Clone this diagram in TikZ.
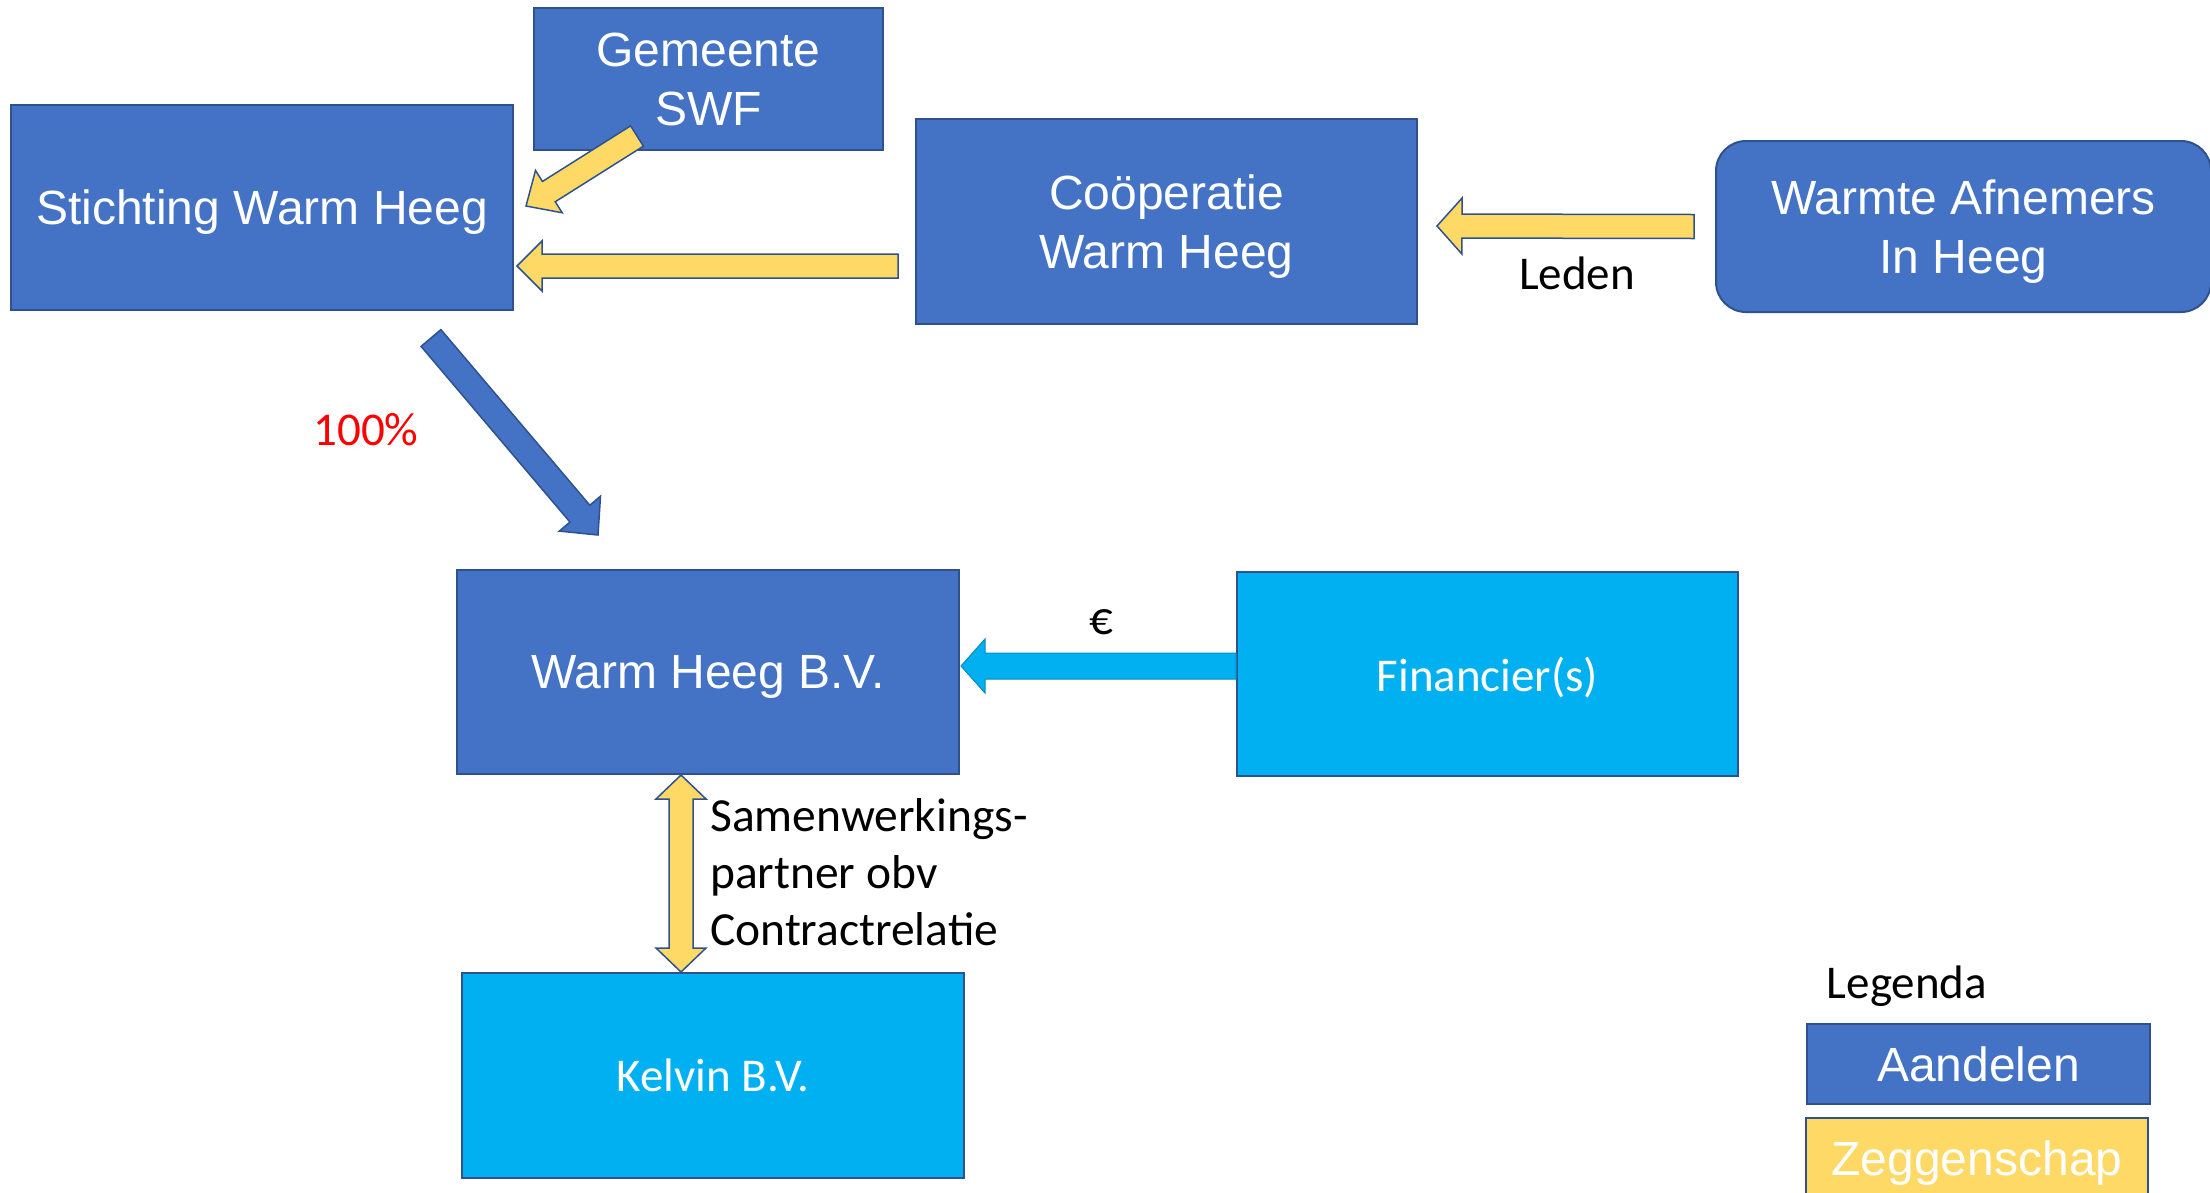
\documentclass[tikz,border=0pt]{standalone}
\usepackage{fontspec}
\setmainfont{Carlito}
\newfontfamily\arialfont{Liberation Sans}
\usetikzlibrary{calc}
\definecolor{darkblue}{HTML}{4472C4}
\definecolor{boxline}{HTML}{2F528F}
\definecolor{lightblue}{HTML}{00B0F0}
\definecolor{goldfill}{HTML}{FFD966}
% block arrow: style, from, to, half shaft width, half head width, head length
\newcommand\myarrow[6]{%
  \coordinate (ba-p) at ($(#3)!#6!(#2)$);
  \draw[#1] ($(#2)!#4!90:(#3)$) -- ($(ba-p)!#4!90:(#3)$) -- ($(ba-p)!#5!90:(#3)$)
    -- (#3) -- ($(ba-p)!#5!-90:(#3)$) -- ($(ba-p)!#4!-90:(#3)$) -- ($(#2)!#4!-90:(#3)$) -- cycle;}
\newcommand\mydblarrow[6]{%
  \coordinate (da-a) at ($(#2)!#6!(#3)$);
  \coordinate (da-b) at ($(#3)!#6!(#2)$);
  \draw[#1] (#2) -- ($(da-a)!#5!90:(#3)$) -- ($(da-a)!#4!90:(#3)$) -- ($(da-b)!#4!90:(#3)$)
    -- ($(da-b)!#5!90:(#3)$) -- (#3) -- ($(da-b)!#5!-90:(#3)$) -- ($(da-b)!#4!-90:(#3)$)
    -- ($(da-a)!#4!-90:(#3)$) -- ($(da-a)!#5!-90:(#3)$) -- cycle;}
\begin{document}
\begin{tikzpicture}[x=1pt,y=-1pt,
  box/.style={draw=boxline, line width=2pt, inner sep=0pt, anchor=north west, align=center, text=white, text depth=0pt},
  arialtext/.style={font=\arialfont\fontsize{48}{59}\selectfont},
  calitext/.style={font=\fontsize{47}{57}\selectfont},
  darkbox/.style={box, arialtext, fill=darkblue},
  lightbox/.style={box, calitext, fill=lightblue},
  yarrow/.style={fill=goldfill, draw=boxline, line width=1.5pt, line join=miter},
  barrow/.style={fill=darkblue, draw=boxline, line width=1.5pt},
  larrow/.style={fill=lightblue, draw=lightblue!80!black, line width=1pt},
  label/.style={calitext, text=black, inner sep=0pt}
]
\useasboundingbox[fill=white] (0,0) rectangle (2210,1192);

% boxes
\node[darkbox, minimum width=502pt, minimum height=205pt] (stich) at (10,104) {Stichting Warm Heeg};
\node[darkbox, minimum width=349pt, minimum height=142pt] (gem) at (533,7) {Gemeente\\SWF};
\node[darkbox, minimum width=501pt, minimum height=205pt] (coop) at (915,118) {Coöperatie\\Warm Heeg};
\node[darkbox, rounded corners=30pt, minimum width=495pt, minimum height=171pt] (warm) at (1715,140) {Warmte Afnemers\\In Heeg};
\node[darkbox, minimum width=502pt, minimum height=204pt] (bv) at (456,569) {Warm Heeg B.V.};
\node[lightbox, minimum width=501pt, minimum height=204pt] (fin) at (1236,571) {Financier(s)};
\node[lightbox, minimum width=502pt, minimum height=205pt] (kel) at (461,972) {Kelvin B.V.};

% legend
\node[label, anchor=center] (leg) at (1907,986) {Legenda};
\node[darkbox, minimum width=343pt, minimum height=80pt] (aand) at (1806,1023) {Aandelen};
\node[box, arialtext, fill=goldfill, minimum width=342pt, minimum height=80pt] (zeg) at (1805,1117) {Zeggenschap};

% arrow end points
\coordinate (a1s) at ($(gem.south west)+(104,-15)$);
\coordinate (a1e) at ($(stich.north east)+(12,102)$);
\coordinate (a2s) at ($(coop.west)+(-17,44.5)$);
\coordinate (a2e) at ($(stich.east)+(3,58.5)$);
\coordinate (a3s) at ($(warm.west)+(-21,0)$);
\coordinate (a3e) at ($(coop.east)+(19,4.5)$);
\coordinate (a4s) at (431,338);
\coordinate (a4e) at (598,535);
\coordinate (a5s) at ($(fin.west)+(0,-8)$);
\coordinate (a5e) at ($(bv.east)+(1,-6)$);
\coordinate (a6t) at ($(bv.south west)+(225,0)$);
\coordinate (a6b) at ($(kel.north west)+(220,0)$);

% arrows
\myarrow{yarrow}{a1s}{a1e}{12pt}{25pt}{27pt}
\myarrow{yarrow}{a2s}{a2e}{12pt}{25pt}{25pt}
\myarrow{yarrow}{a3s}{a3e}{12pt}{28pt}{25pt}
\myarrow{barrow}{a4s}{a4e}{13pt}{27pt}{28pt}
\myarrow{larrow}{a5s}{a5e}{13pt}{27pt}{24pt}
\mydblarrow{yarrow}{a6t}{a6b}{12pt}{25pt}{24pt}

% labels
\node[label] (leden) at (1577,273) {Leden};
\node[label] (euro) at (1101,622) {€};
\node[label, text=red] (pct) at (366,430) {100\%};
\node[label, anchor=west, align=left, font=\fontsize{47.5}{57}\selectfont] (samen) at (710,872) {Samenwerkings-\\partner obv\\Contractrelatie};
\end{tikzpicture}
\end{document}
